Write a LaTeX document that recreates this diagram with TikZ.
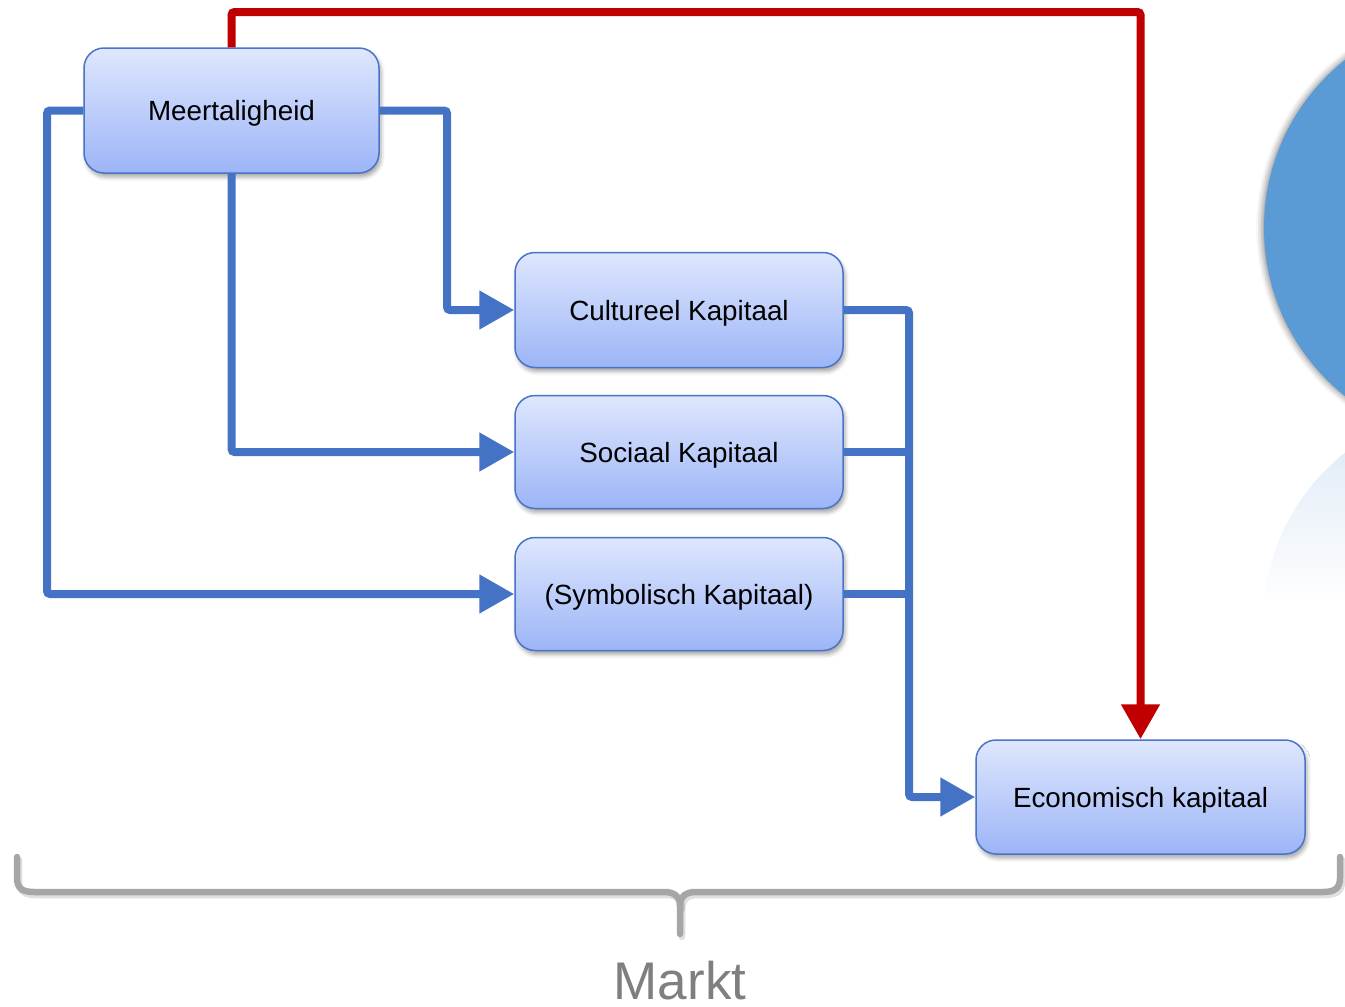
\documentclass[tikz,border=0pt]{standalone}
\usepackage{fontspec}
\setmainfont{Liberation Sans}
\usetikzlibrary{shadows,shadows.blur,arrows.meta}
\definecolor{boxtop}{HTML}{DFE7FE}
\definecolor{boxbot}{HTML}{9CB5F7}
\definecolor{boxline}{HTML}{4A74C8}
\definecolor{conblue}{HTML}{4472C4}
\definecolor{conred}{HTML}{C00000}
\definecolor{bracegray}{HTML}{A6A6A6}
\definecolor{marktgray}{HTML}{7F7F7F}
\definecolor{circblue}{HTML}{5B9BD5}
\definecolor{circlight}{HTML}{B8D0EA}
\pgfdeclareverticalshading{fadecirc}{100bp}{color(0bp)=(white); color(52bp)=(white); color(88bp)=(circlight!80!white); color(100bp)=(circlight)}
\tikzset{
  capbox/.style={draw=boxline, line width=1.5pt, rounded corners=20pt,
    top color=boxtop, bottom color=boxbot, text=black,
    font=\fontsize{27.8}{33}\selectfont, inner sep=0pt,
    text height=20pt, text depth=0pt,
    blur shadow={shadow xshift=2pt, shadow yshift=-4pt, shadow blur radius=4pt, shadow opacity=35}},
  bluecon/.style={draw=conblue, line width=8pt, rounded corners=3pt},
  bluearrow/.style={bluecon, -{Triangle[length=35pt,width=37pt]}},
  redarrow/.style={draw=conred, line width=8pt, rounded corners=3pt, -{Triangle[length=35pt,width=37pt]}},
  bracestyle/.style={draw=bracegray, line width=6.5pt, line cap=round, line join=round},
}
\begin{document}
\begin{tikzpicture}[x=1pt,y=-1pt]
\useasboundingbox (0,0) rectangle (1345,1007);
\clip (0,0) rectangle (1345,1007);
% circles on the right, cut off by the edge
\fill[circblue, blur shadow={shadow xshift=-2pt, shadow yshift=0pt, shadow blur radius=6pt, shadow opacity=45}] (1479,228) circle (215);
\shade[shading=fadecirc] (1479,622) circle (216);
% boxes
\node[capbox, minimum width=295pt, minimum height=125pt] (mee) at (231.5,110.5) {Meertaligheid};
\node[capbox, minimum width=328pt, minimum height=115pt] (cul) at (679,310) {Cultureel Kapitaal};
\node[capbox, minimum width=328pt, minimum height=113pt] (soc) at (679,452) {Sociaal Kapitaal};
\node[capbox, minimum width=328pt, minimum height=113pt] (sym) at (679,594) {(Symbolisch Kapitaal)};
\node[capbox, minimum width=329pt, minimum height=114pt] (eco) at (1140.5,797) {Economisch kapitaal};
% bend coordinates
\coordinate (b1) at (447,110.5);
\coordinate (b2) at (47,110.5);
\coordinate (jx) at (909,310);
\coordinate (js) at (909,452);
\coordinate (jy) at (909,594);
\coordinate (rtop) at (231.5,12);
% connectors
\draw[bluearrow] (mee.east) -- (b1) |- (cul.west);
\draw[bluearrow] (mee.south) |- (soc.west);
\draw[bluearrow] (mee.west) -- (b2) |- (sym.west);
\draw[bluearrow] (cul.east) -- (jx) |- (eco.west);
\draw[bluecon] (soc.east) -- (js);
\draw[bluecon] (sym.east) -- (jy);
\draw[redarrow] (mee.north) -- (rtop) -| (eco.north);
% brace
\draw[bracestyle, draw=black, opacity=0.12, xshift=2pt, yshift=-3pt]
  (17,857) -- (17,878) .. controls (17,888) and (22,892) .. (34,892) -- (664,892)
  .. controls (675,892) and (680,897) .. (680,906) -- (680,934);
\draw[bracestyle, draw=black, opacity=0.12, xshift=2pt, yshift=-3pt]
  (1340,857) -- (1340,878) .. controls (1340,888) and (1335,892) .. (1323,892) -- (696,892)
  .. controls (685,892) and (680,897) .. (680,906);
\coordinate (bl) at (17,857);
\coordinate (br) at (1340,857);
\draw[bracestyle] (bl) -- (17,878) .. controls (17,888) and (22,892) .. (34,892) -- (664,892)
  .. controls (675,892) and (680,897) .. (680,906) -- (680,934);
\draw[bracestyle] (br) -- (1340,878) .. controls (1340,888) and (1335,892) .. (1323,892) -- (696,892)
  .. controls (685,892) and (680,897) .. (680,906);
\node[anchor=base, text=marktgray, font=\fontsize{53}{60}\selectfont, inner sep=0pt] (markt) at (680,999) {Markt};
\end{tikzpicture}
\end{document}
